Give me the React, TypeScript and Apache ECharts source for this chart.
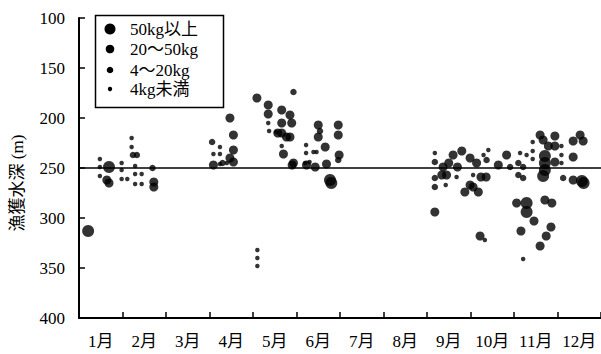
import React, { useEffect, useRef } from "react";
import * as echarts from "echarts";

// Month labels shown under the axis (each month spans one unit on the x value axis)
const MONTHS = ["1月", "2月", "3月", "4月", "5月", "6月", "7月", "8月", "9月", "10月", "11月", "12月"];

// Depth ticks (m), axis runs downward from 100 to 400
const DEPTH_MIN = 100;
const DEPTH_MAX = 400;
const DEPTH_STEP = 50;
const REFERENCE_DEPTH = 250;

// Weight classes
const CLASS_NAMES = ["50kg以上", "20〜50kg", "4〜20kg", "4kg未満"];

// [month position (0 = start of Jan), catch depth (m)]
const over50kg: [number, number][] = [
  [0.21, 313], [0.69, 249], [5.77, 262], [5.8, 265],
  [10.29, 285], [10.29, 294], [10.71, 238], [10.71, 245], [10.71, 252], [10.67, 258],
  [11.56, 263], [11.6, 265],
];

const from20to50kg: [number, number][] = [
  [0.64, 262], [0.69, 265], [1.72, 264], [1.72, 269],
  [3.09, 247], [3.47, 200], [3.55, 217], [3.55, 232], [3.47, 240], [3.55, 244],
  [4.09, 180], [4.35, 187], [4.35, 196], [4.66, 192], [4.66, 205], [4.66, 215], [4.77, 219],
  [4.7, 236], [4.85, 197], [4.89, 205], [4.85, 219], [4.93, 245], [4.57, 215], [4.9, 247],
  [5.23, 247], [5.43, 249], [5.5, 207], [5.5, 219], [5.66, 229], [5.69, 246], [5.96, 207],
  [5.96, 217], [5.98, 237],
  [8.18, 294], [8.37, 249], [8.34, 257], [8.45, 257], [8.6, 237], [8.8, 233], [8.87, 274],
  [8.99, 267], [8.5, 245], [8.7, 249],
  [8.99, 240], [9.14, 245], [9.06, 269], [9.18, 274], [9.24, 259], [9.36, 259], [9.64, 247],
  [9.83, 237], [9.22, 318],
  [10.6, 217], [10.67, 222], [10.79, 228], [10.94, 228], [10.94, 218], [10.94, 244],
  [10.06, 285], [10.46, 303], [10.16, 313], [10.6, 328], [10.74, 318], [10.85, 309],
  [10.71, 282], [10.87, 285],
  [11.52, 217], [11.36, 223], [11.59, 223], [11.36, 239], [11.36, 262],
];

const from4to20kg: [number, number][] = [
  [1.24, 237], [1.33, 237], [1.69, 250], [3.06, 224], [3.3, 245], [4.93, 174], [5.54, 213],
  [5.96, 242], [8.18, 244], [8.18, 260], [8.18, 269], [9.37, 242], [9.91, 249], [10.1, 245],
  [10.21, 249], [10.1, 257], [10.21, 260], [11.13, 260],
];

const under4kg: [number, number][] = [
  [0.48, 241], [0.48, 249], [0.48, 258], [0.98, 245], [0.98, 252], [0.98, 261], [1.11, 261],
  [1.21, 220], [1.21, 229], [1.29, 248], [1.29, 256], [1.44, 256], [1.29, 266], [1.44, 266],
  [3.24, 229], [3.24, 236], [3.09, 236], [3.4, 245], [3.24, 246],
  [4.35, 205], [4.37, 213], [4.66, 228], [4.53, 214], [4.1, 332], [4.1, 340], [4.1, 348],
  [5.22, 227], [5.22, 235], [5.39, 234], [5.46, 234], [5.2, 245], [5.3, 244],
  [8.18, 235], [8.43, 267], [8.68, 259],
  [9.3, 237], [9.41, 232], [9.06, 257], [9.33, 322],
  [10.14, 235], [10.29, 237], [10.43, 224], [10.43, 233], [10.43, 241], [10.21, 341],
  [11.09, 228], [11.09, 237], [11.09, 245],
];

const SERIES_DATA = [over50kg, from20to50kg, from4to20kg, under4kg];
const SYMBOL_SIZES = [12, 9, 6.5, 4.5];

const FONT = "'Liberation Serif', 'Noto Sans CJK JP', serif";

export default function App() {
  const ref = useRef<HTMLDivElement>(null);

  useEffect(() => {
    if (!ref.current) return;
    const chart = echarts.init(ref.current, undefined, { renderer: "svg" });

    const series: any[] = SERIES_DATA.map((data, i) => ({
      name: CLASS_NAMES[i],
      type: "scatter",
      xAxisIndex: 0,
      data,
      symbol: "circle",
      symbolSize: SYMBOL_SIZES[i],
      itemStyle: { color: "#000" },
      silent: true,
    }));
    series[0].markLine = {
      silent: true,
      symbol: ["none", "none"],
      label: { show: false },
      lineStyle: { color: "#000", type: "solid", width: 1.5 },
      data: [{ yAxis: REFERENCE_DEPTH }],
    };

    // Legend box with one circle per weight class
    const legendRows = [29, 49, 70, 89];
    const legendRadii = [5.5, 4.3, 3.3, 2.2];
    const legendItems: any[] = [
      {
        type: "rect",
        shape: { x: 95.5, y: 15.5, width: 128, height: 92 },
        style: { fill: "#fff", stroke: "#000", lineWidth: 1.5 },
        z: 10,
      },
    ];
    CLASS_NAMES.forEach((name, i) => {
      legendItems.push({
        type: "circle",
        shape: { cx: 110, cy: legendRows[i], r: legendRadii[i] },
        style: { fill: "#000" },
        z: 11,
      });
      legendItems.push({
        type: "text",
        x: 130,
        y: legendRows[i],
        style: {
          text: name,
          font: `17px ${FONT}`,
          fill: "#000",
          align: "left",
          verticalAlign: "middle",
          textAlign: "left",
          textVerticalAlign: "middle",
        },
        z: 11,
      });
    });

    chart.setOption({
      animation: false,
      backgroundColor: "#fff",
      grid: { left: 79, right: 0, top: 18, bottom: 36, containLabel: false },
      xAxis: [
        {
          type: "value",
          min: 0,
          max: MONTHS.length,
          interval: 1,
          axisLine: { onZero: false, lineStyle: { color: "#000", width: 2 } },
          axisTick: { show: true, inside: true, length: 6, lineStyle: { color: "#000", width: 1.5 } },
          axisLabel: { show: false },
          splitLine: { show: false },
        },
        {
          type: "category",
          data: MONTHS,
          position: "bottom",
          axisLine: { show: false },
          axisTick: { show: false },
          axisLabel: { interval: 0, margin: 15, fontSize: 17, color: "#000", fontFamily: FONT },
          splitLine: { show: false },
        },
      ],
      yAxis: {
        type: "value",
        inverse: true,
        min: DEPTH_MIN,
        max: DEPTH_MAX,
        interval: DEPTH_STEP,
        axisLine: { show: true, onZero: false, lineStyle: { color: "#000", width: 2 } },
        axisTick: { show: true, inside: true, length: 6, lineStyle: { color: "#000", width: 1.5 } },
        axisLabel: { margin: 14, fontSize: 17, color: "#000", fontFamily: FONT },
        splitLine: { show: false },
      },
      graphic: [
        {
          type: "text",
          x: 17,
          y: 183,
          rotation: Math.PI / 2,
          style: {
            text: "漁獲水深 (m)",
            font: `17px ${FONT}`,
            fill: "#000",
            align: "center",
            verticalAlign: "middle",
            textAlign: "center",
            textVerticalAlign: "middle",
          },
        },
        ...legendItems,
      ],
      series,
    });

    return () => chart.dispose();
  }, []);

  return <div ref={ref} style={{ width: 601, height: 354, position: "absolute", left: 0, top: 0 }} />;
}
